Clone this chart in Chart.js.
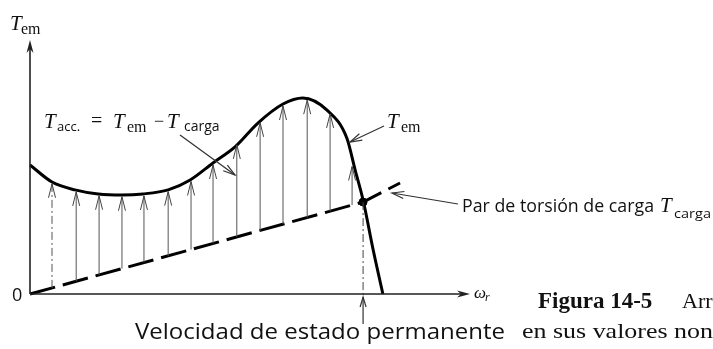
<!DOCTYPE html>
<html>
<head>
<meta charset="utf-8">
<script src="https://cdn.jsdelivr.net/npm/chart.js@4"></script>
<style>
  html, body { margin: 0; padding: 0; background: #fff; }
  canvas { display: block; }
</style>
</head>
<body>
<canvas id="torqueChart" width="713" height="349"></canvas>
<script>
// T_em curve vs rotor speed (arbitrary units 0..100)
const speedPts = [0, 5.0, 10.2, 15.5, 20.9, 25.7, 31.4, 36.4, 41.6, 46.6, 51.8, 57.5, 62.0, 67.5, 72.0, 73.9, 75.7, 78.0, 80.2];
const temPts = [50.8, 44.1, 41.0, 39.4, 39.0, 39.4, 41.0, 44.9, 51.6, 57.9, 67.3, 74.8, 77.2, 72.4, 61.4, 48.8, 37.0, 17.3, 0];

// load torque, dashed line
const loadSpeed = [0, 75.7, 84.1];
const loadTorque = [0, 36.2, 43.7];

// steady state point
const steadySpeed = 75.7;
const steadyTorque = 36.2;

// acceleration arrows (from load line up to T_em)
const arrowSpeed = [5.0, 10.5, 15.7, 20.9, 25.9, 31.4, 36.6, 41.6, 47.0, 52.3, 57.5, 63.0, 68.2, 73.2];
const arrowFrom = [2.4, 5.0, 7.5, 10.0, 12.4, 15.0, 17.5, 19.9, 22.5, 25.0, 27.5, 30.1, 32.6, 35.0];
const arrowTo = [43.4, 40.2, 38.7, 38.3, 38.6, 40.3, 44.3, 50.8, 58.7, 67.4, 74.0, 76.3, 70.9, 50.2];

const SERIF = '"Liberation Serif", "DejaVu Serif", serif';
const SANS = '"Open Sans", "Liberation Sans", sans-serif';

function openHead(ctx, x1, y1, x2, y2, len, half) {
  const a = Math.atan2(y2 - y1, x2 - x1);
  const bx = x2 - len * Math.cos(a), by = y2 - len * Math.sin(a);
  const nx = -Math.sin(a) * half, ny = Math.cos(a) * half;
  ctx.beginPath();
  ctx.moveTo(bx + nx, by + ny);
  ctx.lineTo(x2, y2);
  ctx.lineTo(bx - nx, by - ny);
  ctx.stroke();
}

function solidHead(ctx, x1, y1, x2, y2, len, half) {
  const a = Math.atan2(y2 - y1, x2 - x1);
  const bx = x2 - len * Math.cos(a), by = y2 - len * Math.sin(a);
  const nx = -Math.sin(a) * half, ny = Math.cos(a) * half;
  ctx.beginPath();
  ctx.moveTo(bx + nx, by + ny);
  ctx.lineTo(x2, y2);
  ctx.lineTo(bx - nx, by - ny);
  ctx.lineTo(x2 - len * 0.7 * Math.cos(a), y2 - len * 0.7 * Math.sin(a));
  ctx.closePath();
  ctx.fill();
}

function leader(ctx, x1, y1, x2, y2) {
  ctx.save();
  ctx.strokeStyle = '#333';
  ctx.lineWidth = 1.2;
  ctx.beginPath();
  ctx.moveTo(x1, y1);
  ctx.lineTo(x2, y2);
  ctx.stroke();
  openHead(ctx, x1, y1, x2, y2, 12, 3.5);
  ctx.restore();
}

function txt(ctx, s, x, y, font, fitW) {
  ctx.save();
  ctx.font = font;
  ctx.textBaseline = 'alphabetic';
  ctx.textAlign = 'left';
  if (fitW) {
    const w = ctx.measureText(s).width;
    ctx.translate(x, y);
    ctx.scale(fitW / w, 1);
    ctx.fillText(s, 0, 0);
  } else {
    ctx.fillText(s, x, y);
  }
  ctx.restore();
}

const figurePlugin = {
  id: 'figure',
  afterDatasetsDraw(chart) {
    const ctx = chart.ctx;
    const xs = chart.scales.x, ys = chart.scales.y;
    const x0 = xs.getPixelForValue(0), y0 = ys.getPixelForValue(0);
    const xEnd = xs.getPixelForValue(100), yTop = ys.getPixelForValue(100);

    ctx.save();
    ctx.strokeStyle = '#222';
    ctx.fillStyle = '#222';
    ctx.lineWidth = 1.6;
    // axes
    ctx.beginPath();
    ctx.moveTo(x0, y0);
    ctx.lineTo(xEnd - 4, y0);
    ctx.moveTo(x0, y0);
    ctx.lineTo(x0, yTop + 4);
    ctx.stroke();
    solidHead(ctx, x0, y0, xEnd, y0, 13, 3.5);
    solidHead(ctx, x0, y0, x0, yTop, 13, 3.5);

    // arrowheads on the acceleration arrows
    ctx.strokeStyle = '#444';
    ctx.lineWidth = 1;
    arrowSpeed.forEach((s, i) => {
      const px = xs.getPixelForValue(s);
      openHead(ctx, px, ys.getPixelForValue(arrowFrom[i]), px, ys.getPixelForValue(arrowTo[i]), 14, 3.5);
    });

    // steady state speed marker below the axis
    const sx = xs.getPixelForValue(steadySpeed);
    ctx.strokeStyle = '#333';
    ctx.lineWidth = 1.2;
    ctx.beginPath();
    ctx.moveTo(sx, y0 + 30);
    ctx.lineTo(sx, y0 + 3);
    ctx.stroke();
    openHead(ctx, sx, y0 + 30, sx, y0 + 3, 10, 3);
    ctx.restore();

    // leaders
    leader(ctx, 180, 135, 235, 175);
    leader(ctx, 384, 126, 350, 142);
    leader(ctx, 458, 204, 392, 193);

    ctx.save();
    ctx.fillStyle = '#111';
    // axis labels
    txt(ctx, 'T', 10, 30, 'italic 21px ' + SERIF);
    txt(ctx, 'em', 21, 34, '16px ' + SERIF);
    txt(ctx, '0', 12, 301, '18px ' + SANS);
    txt(ctx, 'ω', 474, 298, 'italic 17px ' + SERIF);
    txt(ctx, 'r', 485, 301, 'italic 12px ' + SERIF);

    // T_acc = T_em - T_carga
    txt(ctx, 'T', 44, 128, 'italic 21px ' + SERIF);
    txt(ctx, 'acc.', 57, 131, '13px ' + SANS);
    txt(ctx, '=', 91, 127, '20px ' + SERIF);
    txt(ctx, 'T', 113, 128, 'italic 21px ' + SERIF);
    txt(ctx, 'em', 127, 132, '16px ' + SERIF);
    txt(ctx, '\u2212', 154, 127, '18px ' + SERIF);
    txt(ctx, 'T', 167, 128, 'italic 21px ' + SERIF);
    txt(ctx, 'carga', 184, 131, '14px ' + SANS);

    // right T_em label
    txt(ctx, 'T', 387, 128, 'italic 21px ' + SERIF);
    txt(ctx, 'em', 401, 132, '16px ' + SERIF);

    // load torque label
    txt(ctx, 'Par de torsión de carga', 462, 212, '18px ' + SANS, 192);
    txt(ctx, 'T', 660, 212, 'italic 21px ' + SERIF);
    txt(ctx, 'carga', 674, 218, '13px ' + SANS, 37);

    // steady speed label
    txt(ctx, 'Velocidad de estado permanente', 135, 339, '21px ' + SANS, 370);

    // caption fragment
    txt(ctx, 'Figura 14-5', 538, 308, 'bold 23px ' + SERIF);
    txt(ctx, 'Arr', 682, 308, '22px ' + SERIF);
    txt(ctx, 'en sus valores non', 522, 338, '22px ' + SERIF, 191);
    ctx.restore();
  }
};

const datasets = [];

arrowSpeed.forEach((s, i) => {
  datasets.push({
    data: [{ x: s, y: arrowFrom[i] }, { x: s, y: arrowTo[i] }],
    borderColor: '#555',
    borderWidth: 1,
    borderDash: i === 0 ? [8, 3, 2, 3] : [],
    pointRadius: 0,
    clip: false,
  });
});

datasets.push({
  data: [{ x: steadySpeed, y: steadyTorque }, { x: steadySpeed, y: -1 }],
  borderColor: '#444',
  borderWidth: 1,
  borderDash: [8, 3, 2, 3],
  pointRadius: 0,
  clip: false,
});

datasets.push({
  label: 'T_carga',
  data: loadSpeed.map((s, i) => ({ x: s, y: loadTorque[i] })),
  borderColor: '#000',
  borderWidth: 3,
  borderDash: [26, 8],
  pointRadius: 0,
  clip: false,
});

datasets.push({
  label: 'T_em',
  data: speedPts.map((s, i) => ({ x: s, y: temPts[i] })),
  borderColor: '#000',
  borderWidth: 3,
  cubicInterpolationMode: 'monotone',
  pointRadius: 0,
  clip: false,
});

datasets.push({
  data: [{ x: steadySpeed, y: steadyTorque }],
  pointRadius: 4,
  pointBackgroundColor: '#000',
  pointBorderColor: '#000',
  showLine: false,
  clip: false,
});

new Chart(document.getElementById('torqueChart'), {
  type: 'line',
  data: { datasets: datasets },
  options: {
    responsive: false,
    animation: false,
    layout: { padding: { left: 30, right: 243, top: 40, bottom: 55 } },
    plugins: { legend: { display: false }, tooltip: { enabled: false } },
    scales: {
      x: { type: 'linear', min: 0, max: 100, display: false },
      y: { type: 'linear', min: 0, max: 100, display: false },
    },
  },
  plugins: [figurePlugin],
});
</script>
</body>
</html>
